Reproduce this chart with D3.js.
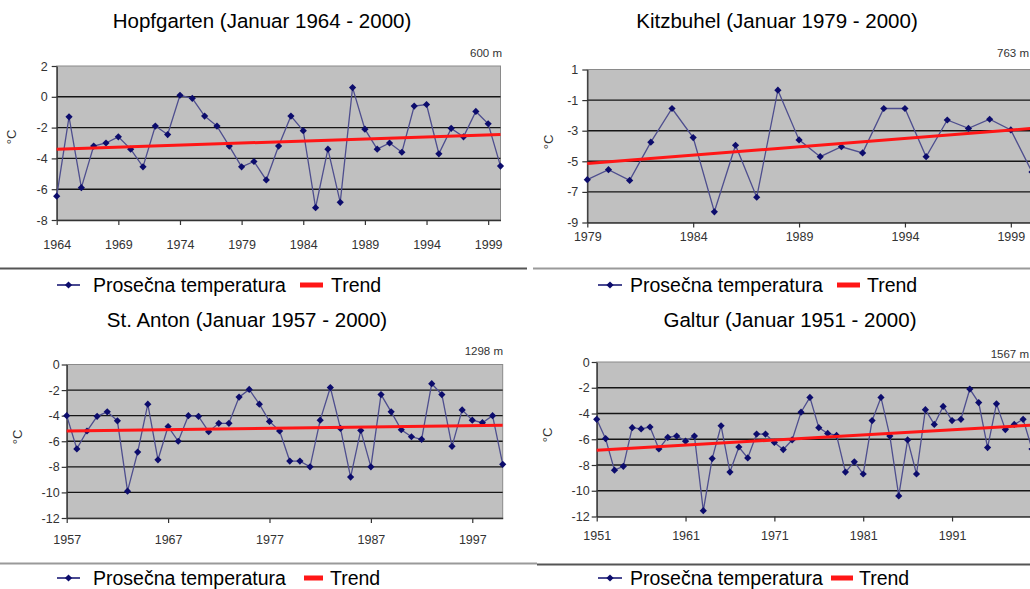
<!DOCTYPE html>
<html><head><meta charset="utf-8">
<script src="https://cdn.jsdelivr.net/npm/d3@7/dist/d3.min.js"></script>
<style>
html,body{margin:0;padding:0;background:#fff;}
svg{display:block;}
text{font-family:"Liberation Sans",Arial,sans-serif;}
.tick text{font-family:"Liberation Sans Narrow","Liberation Sans",Arial,sans-serif;}
</style></head>
<body><svg id="c" width="1030" height="589"></svg>
<script>
// ---------- DATA ----------
const hopTitle = "Hopfgarten (Januar 1964 - 2000)";
const hopAlt = "600 m";
const hopStart = 1964;
const hopValues = [-6.45,-1.3,-5.9,-3.2,-3.0,-2.6,-3.4,-4.55,-1.9,-2.45,0.1,-0.1,-1.25,-1.9,-3.2,-4.55,-4.2,-5.4,-3.2,-1.25,-2.2,-7.2,-3.4,-6.85,0.6,-2.1,-3.4,-3.0,-3.6,-0.6,-0.5,-3.7,-2.05,-2.6,-0.95,-1.75,-4.5];
const hopTrend = [-3.4,-2.45];
const hopXTicks = [1964,1969,1974,1979,1984,1989,1994,1999];
const hopYTicks = [-8,-6,-4,-2,0,2];

const kitTitle = "Kitzbuhel (Januar 1979 - 2000)";
const kitAlt = "763 m";
const kitStart = 1979;
const kitValues = [-6.2,-5.55,-6.25,-3.75,-1.55,-3.45,-8.3,-3.95,-7.35,-0.35,-3.6,-4.7,-4.05,-4.45,-1.55,-1.55,-4.7,-2.3,-2.85,-2.25,-2.95,-5.7];
const kitTrend = [-5.15,-2.85];
const kitXTicks = [1979,1984,1989,1994,1999];
const kitYTicks = [-9,-7,-5,-3,-1,1];

const antTitle = "St. Anton (Januar 1957 - 2000)";
const antAlt = "1298 m";
const antStart = 1957;
const antValues = [-4.0,-6.6,-5.2,-4.05,-3.7,-4.4,-9.9,-6.85,-3.1,-7.45,-4.85,-6.0,-4.0,-4.05,-5.25,-4.6,-4.6,-2.55,-1.95,-3.1,-4.45,-5.2,-7.55,-7.55,-8.0,-4.35,-1.8,-5.0,-8.8,-5.15,-8.0,-2.35,-3.7,-5.1,-5.65,-5.85,-1.5,-2.35,-6.4,-3.55,-4.35,-4.55,-4.0,-7.8];
const antTrend = [-5.2,-4.75];
const antXTicks = [1957,1967,1977,1987,1997];
const antYTicks = [-12,-10,-8,-6,-4,-2,0];

const galTitle = "Galtur (Januar 1951 - 2000)";
const galAlt = "1567 m";
const galStart = 1951;
const galValues = [-4.45,-5.95,-8.4,-8.1,-5.1,-5.2,-5.05,-6.75,-5.85,-5.75,-6.15,-5.75,-11.55,-7.5,-4.95,-8.55,-6.6,-7.45,-5.6,-5.6,-6.25,-6.8,-6.05,-3.9,-2.75,-5.1,-5.55,-5.7,-8.55,-7.75,-8.7,-4.55,-2.75,-5.75,-10.4,-6.05,-8.7,-3.7,-4.85,-3.45,-4.55,-4.45,-2.1,-3.15,-6.65,-3.25,-5.25,-4.85,-4.45,-6.75];
const galTrend = [-6.85,-4.9];
const galXTicks = [1951,1961,1971,1981,1991];
const galYTicks = [-12,-10,-8,-6,-4,-2,0];

const legendLabels = ["Prosečna temperatura","Trend"];
const unitLabel = "°C";

// ---------- DRAW ----------
const svg = d3.select("#c");
svg.append("rect").attr("width",1030).attr("height",589).attr("fill","#fff");

const LINE_COL = "#4e4e8e", MARK_COL = "#0c0c6c", TREND_COL = "#ff1616";

function diamond(g, x, y, r){
  g.append("path").attr("d",`M${x},${y-r}L${x+r},${y}L${x},${y+r}L${x-r},${y}Z`).attr("fill",MARK_COL);
}

function panel(p){
  const years = p.values.map((v,i)=>p.start+i);
  const last = years[years.length-1];
  const x = d3.scaleLinear().domain([p.start,last]).range([p.x0,p.x1]);
  const yd = d3.extent(p.yTicks);
  const y = d3.scaleLinear().domain(yd).range([p.y1,p.y0]);
  const g = svg.append("g");

  g.append("text").attr("x",p.titleX).attr("y",p.titleY).attr("text-anchor","middle")
    .attr("font-size",20.5).attr("fill","#000").text(p.title);
  g.append("text").attr("x",p.altX).attr("y",p.altY).attr("text-anchor","end")
    .attr("font-size",11.5).attr("fill","#333").text(p.alt);

  // plot area
  g.append("rect").attr("x",p.x0).attr("y",p.y0).attr("width",p.x1-p.x0).attr("height",p.y1-p.y0)
    .attr("fill","#c0c0c0").attr("stroke","#8a8a8a").attr("stroke-width",1);
  // grid
  g.selectAll(".grid").data(p.yTicks.filter(t=>t!==yd[0]&&t!==yd[1])).join("line")
    .attr("x1",p.x0).attr("x2",p.x1).attr("y1",d=>y(d)).attr("y2",d=>y(d))
    .attr("stroke","#151515").attr("stroke-width",1.4);

  // axes
  const ya = g.append("g").attr("transform",`translate(${p.x0},0)`)
    .call(d3.axisLeft(y).tickValues(p.yTicks).tickSize(5).tickSizeOuter(0).tickPadding(p.yPad).tickFormat(d3.format("d")));
  const xa = g.append("g").attr("transform",`translate(0,${p.y1})`)
    .call(d3.axisBottom(x).tickValues(p.xTicks).tickSize(5).tickSizeOuter(0).tickPadding(p.xPad).tickFormat(d3.format("d")));
  [ya,xa].forEach(a=>{
    a.select(".domain").attr("stroke","#333").attr("stroke-width",1.3);
    a.selectAll(".tick line").attr("stroke","#333").attr("stroke-width",1.2);
    a.selectAll(".tick text").attr("font-size",12.5).attr("fill","#333");
  });
  ya.selectAll(".tick text").text(d=>d<0? "-"+Math.abs(d) : d);

  g.append("text").attr("transform",`translate(${p.unitX},${p.unitY}) rotate(-90)`)
    .attr("text-anchor","middle").attr("font-size",13).attr("fill","#333").text(unitLabel);

  // series
  const line = d3.line().x((d,i)=>x(years[i])).y(d=>y(d));
  g.append("path").datum(p.values).attr("d",line).attr("fill","none")
    .attr("stroke",LINE_COL).attr("stroke-width",1.3);
  p.values.forEach((v,i)=>diamond(g,x(years[i]),y(v),3.6));

  // trend
  g.append("line").attr("x1",x(p.start)).attr("x2",x(last))
    .attr("y1",y(p.trend[0])).attr("y2",y(p.trend[1]))
    .attr("stroke",TREND_COL).attr("stroke-width",3);

  // legend
  const L = p.legend;
  g.append("line").attr("x1",L.m0).attr("x2",L.m1).attr("y1",L.y).attr("y2",L.y).attr("stroke",MARK_COL).attr("stroke-width",1.5);
  diamond(g,(L.m0+L.m1)/2,L.y,3.6);
  g.append("text").attr("x",L.t0).attr("y",L.y+6.5).attr("font-size",19.5).attr("fill","#000").text(legendLabels[0]);
  g.append("rect").attr("x",L.r0).attr("y",L.y-2.5).attr("width",L.r1-L.r0).attr("height",5).attr("fill",TREND_COL);
  g.append("text").attr("x",L.t1).attr("y",L.y+6.5).attr("font-size",19.5).attr("fill","#000").text(legendLabels[1]);
}

// separators
svg.append("line").attr("x1",0).attr("x2",527).attr("y1",268.5).attr("y2",268.5).attr("stroke","#555").attr("stroke-width",2);
svg.append("line").attr("x1",533).attr("x2",1030).attr("y1",268.5).attr("y2",268.5).attr("stroke","#9a9a9a").attr("stroke-width",2);
svg.append("line").attr("x1",0).attr("x2",537).attr("y1",563.5).attr("y2",563.5).attr("stroke","#9a9a9a").attr("stroke-width",2);
svg.append("line").attr("x1",537).attr("x2",1030).attr("y1",564.5).attr("y2",564.5).attr("stroke","#555").attr("stroke-width",2);

panel({title:hopTitle,alt:hopAlt,start:hopStart,values:hopValues,trend:hopTrend,xTicks:hopXTicks,yTicks:hopYTicks,
  x0:56.7,x1:500.5,y0:66,y1:220,titleX:262,titleY:27.5,altX:502,altY:57,unitX:16,unitY:137,yPad:4,xPad:15,
  legend:{y:285,m0:57,m1:80,t0:93,r0:300,r1:323,t1:331}});
panel({title:kitTitle,alt:kitAlt,start:kitStart,values:kitValues,trend:kitTrend,xTicks:kitXTicks,yTicks:kitYTicks,
  x0:587.3,x1:1032,y0:69.5,y1:222.5,titleX:777,titleY:27.5,altX:1029,altY:57,unitX:553,unitY:142,yPad:4,xPad:5,
  legend:{y:285,m0:598,m1:622,t0:630,r0:837,r1:860,t1:867}});
panel({title:antTitle,alt:antAlt,start:antStart,values:antValues,trend:antTrend,xTicks:antXTicks,yTicks:antYTicks,
  x0:66.7,x1:502.7,y0:364.5,y1:518,titleX:247,titleY:327,altX:503,altY:355,unitX:22,unitY:437,yPad:2,xPad:12,
  legend:{y:578,m0:57,m1:80,t0:93,r0:304,r1:323,t1:330}});
panel({title:galTitle,alt:galAlt,start:galStart,values:galValues,trend:galTrend,xTicks:galXTicks,yTicks:galYTicks,
  x0:596.7,x1:1032,y0:362,y1:516.5,titleX:790,titleY:327,altX:1029,altY:358,unitX:552,unitY:435,yPad:2,xPad:10,
  legend:{y:578,m0:598,m1:622,t0:630,r0:831,r1:853,t1:859}});
</script></body></html>
